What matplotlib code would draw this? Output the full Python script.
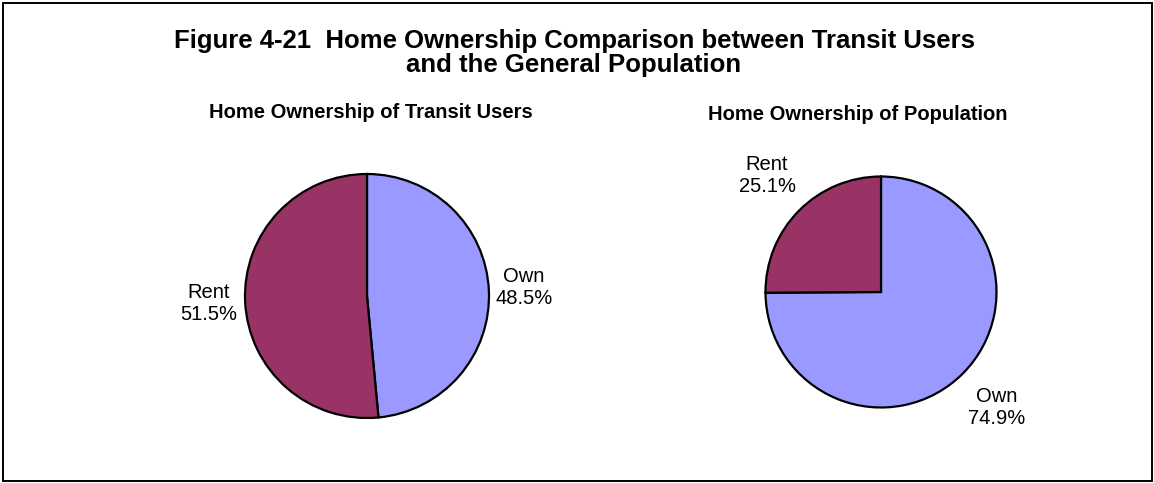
import matplotlib.pyplot as plt
from matplotlib.patches import Rectangle

W, H = 1154, 483

labels = ["Own", "Rent"]
transit_pct = [48.5, 51.5]
population_pct = [74.9, 25.1]
colors = ["#9999FF", "#993366"]

title = "Figure 4-21  Home Ownership Comparison between Transit Users\nand the General Population"
sub_transit = "Home Ownership of Transit Users"
sub_population = "Home Ownership of Population"

plt.rcParams['font.family'] = ['Liberation Sans', 'DejaVu Sans']

fig = plt.figure(figsize=(W / 100, H / 100), dpi=100)

# outer frame
fig.patches.append(Rectangle((2.5 / W, 2.5 / H), (W - 5) / W, (H - 5) / H,
                             transform=fig.transFigure, fill=False,
                             edgecolor="black", linewidth=1.4))

fig.text(574 / W, 1 - 53 / H, title, ha="center", va="center",
         fontsize=18.5, fontweight="bold", linespacing=1.0)


def pie_axes(cx, cy, r, values):
    ax = fig.add_axes([(cx - r) / W, (H - cy - r) / H, 2 * r / W, 2 * r / H])
    ax.pie(values, colors=colors, startangle=90, counterclock=False,
           radius=1, wedgeprops=dict(edgecolor="black", linewidth=1.6))
    ax.set_xlim(-1, 1)
    ax.set_ylim(-1, 1)
    ax.axis("off")
    return ax


def add_labels(ax, cx, cy, r, values, positions):
    for lab, v, (px, py) in zip(labels, values, positions):
        x, y = (px - cx) / r, (cy - py) / r
        ax.text(x, y, f"{lab}\n{v:.1f}%", ha="center", va="center",
                fontsize=14.5, linespacing=1.2, clip_on=False)


# left pie
cx1, cy1, r1 = 367, 296, 122
ax1 = pie_axes(cx1, cy1, r1, transit_pct)
fig.text(371 / W, 1 - 112.5 / H, sub_transit, ha="center", va="center",
         fontsize=14.5, fontweight="bold")
add_labels(ax1, cx1, cy1, r1, transit_pct, [(524, 288), (209, 303)])

# right pie
cx2, cy2, r2 = 881, 292, 115.5
ax2 = pie_axes(cx2, cy2, r2, population_pct)
fig.text(858 / W, 1 - 114.5 / H, sub_population, ha="center", va="center",
         fontsize=14.5, fontweight="bold")
add_labels(ax2, cx2, cy2, r2, population_pct, [(997, 407), (767, 175)])

fig.savefig("out.png", dpi=100)
